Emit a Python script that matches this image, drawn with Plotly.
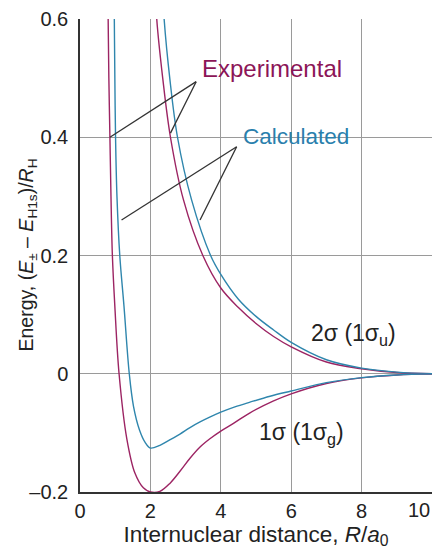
import plotly.graph_objects as go

# ---- data ----
# Experimental 1σ (1σg) - lower bonding curve
exp_1s_R = [0.78, 0.80, 0.82, 0.85, 0.88, 0.92, 0.99, 1.11, 1.33, 1.56, 1.80, 2.00, 2.27, 2.56, 2.84, 3.125, 3.41, 3.69, 4.00, 4.36, 4.83, 5.50, 6.00, 7.00, 8.00, 9.00, 10.0]
exp_1s_E = [0.70, 0.60, 0.50, 0.40, 0.30, 0.20, 0.114, 0.0, -0.110, -0.168, -0.193, -0.200, -0.199, -0.185, -0.165, -0.143, -0.124, -0.110, -0.097, -0.084, -0.066, -0.046, -0.034, -0.0165, -0.007, -0.002, 0.0]

# Calculated 1σ (1σg)
calc_1s_R = [0.96, 0.975, 0.99, 1.01, 1.05, 1.13, 1.25, 1.40, 1.52, 1.69, 1.85, 2.00, 2.27, 2.56, 2.84, 3.125, 3.41, 3.70, 4.00, 4.40, 4.83, 5.40, 6.00, 7.00, 8.00, 9.00, 10.0]
calc_1s_E = [0.70, 0.60, 0.50, 0.40, 0.30, 0.20, 0.114, 0.0, -0.055, -0.095, -0.116, -0.1257, -0.121, -0.1116, -0.102, -0.091, -0.0815, -0.073, -0.065, -0.056, -0.048, -0.038, -0.0292, -0.015, -0.0065, -0.002, 0.0]

# Experimental 2σ (1σu) - upper antibonding curve
exp_2s_R = [2.10, 2.18, 2.35, 2.57, 2.94, 3.49, 4.00, 4.50, 5.00, 5.50, 6.00, 7.00, 8.00, 9.00, 10.0]
exp_2s_E = [0.70, 0.60, 0.50, 0.40, 0.294, 0.20, 0.145, 0.112, 0.085, 0.063, 0.0455, 0.0198, 0.0085, 0.002, 0.0]

# Calculated 2σ (1σu)
calc_2s_R = [2.30, 2.39, 2.55, 2.77, 3.17, 3.71, 4.00, 4.50, 5.00, 5.50, 6.00, 7.00, 8.00, 9.00, 10.0]
calc_2s_E = [0.70, 0.60, 0.50, 0.40, 0.294, 0.20, 0.168, 0.126, 0.097, 0.074, 0.053, 0.0237, 0.0096, 0.0028, 0.0]

x_ticks = [0, 2, 4, 6, 8, 10]
x_tick_text = ["0", "2", "4", "6", "8", ""]
y_ticks = [-0.2, 0.0, 0.2, 0.4, 0.6]
y_tick_text = ["\u20130.2", "0", "0.2", "0.4", "0.6"]

MAG = "#9c2463"
BLUE = "#2f86ad"
FONT = "Liberation Sans"
TXT = "#222222"

fig = go.Figure()
for R, E, c in [(exp_2s_R, exp_2s_E, MAG), (calc_2s_R, calc_2s_E, BLUE),
                (exp_1s_R, exp_1s_E, MAG), (calc_1s_R, calc_1s_E, BLUE)]:
    fig.add_trace(go.Scatter(x=R, y=E, mode="lines",
                             line=dict(color=c, width=1.4, shape="spline", smoothing=1.0),
                             showlegend=False, hoverinfo="skip"))

# leader lines
leaders = [
    ((3.30, 0.494), (0.85, 0.400)),
    ((3.30, 0.494), (2.57, 0.407)),
    ((4.45, 0.384), (1.18, 0.260)),
    ((4.45, 0.384), (3.41, 0.260)),
]
for (x0, y0), (x1, y1) in leaders:
    fig.add_shape(type="line", xref="x", yref="y", x0=x0, y0=y0, x1=x1, y1=y1,
                  line=dict(color="#333333", width=1.3))

ann_font = dict(family=FONT, size=23, color=TXT)
fig.add_annotation(x=3.41, y=0.517, xref="x", yref="y", text="Experimental", showarrow=False,
                   xanchor="left", yanchor="middle", font=dict(family=FONT, size=24, color="#8c1557"))
fig.add_annotation(x=4.57, y=0.402, xref="x", yref="y", text="Calculated", showarrow=False,
                   xanchor="left", yanchor="middle", font=dict(family=FONT, size=22.5, color="#2a7fad"))
fig.add_annotation(x=6.50, y=0.066, xref="x", yref="y", text="2\u03c3 (1\u03c3<sub>u</sub>)", showarrow=False,
                   xanchor="left", yanchor="middle", font=ann_font)
fig.add_annotation(x=5.04, y=-0.101, xref="x", yref="y", text="1\u03c3 (1\u03c3<sub>g</sub>)", showarrow=False,
                   xanchor="left", yanchor="middle", font=ann_font)
# last x tick label, kept inside the page
fig.add_annotation(x=10, y=0, xref="x", yref="paper", text="10", showarrow=False,
                   xanchor="right", yanchor="top", yshift=-5, font=dict(family=FONT, size=20, color=TXT))
# y axis title
fig.add_annotation(x=0, y=0.5, xref="paper", yref="paper", xshift=-53, textangle=-90,
                   text="Energy, (<i>E</i><sub>\u00b1</sub> \u2013 <i>E</i><sub>H1s</sub>)/<i>R</i><sub>H</sub>",
                   showarrow=False, xanchor="center", yanchor="middle",
                   font=dict(family=FONT, size=19.5, color=TXT))

fig.update_layout(
    width=433, height=550,
    margin=dict(l=80, r=1, t=19, b=58),
    paper_bgcolor="white", plot_bgcolor="white",
    font=dict(family=FONT, size=20, color=TXT),
    xaxis=dict(range=[0, 10], tickvals=x_ticks, ticktext=x_tick_text,
               showgrid=True, gridcolor="#9a9a9a", gridwidth=1, zeroline=False,
               showline=True, linecolor="#333333", linewidth=1.5, ticks="",
               title=dict(text="Internuclear distance, <i>R</i>/<i>a</i><sub>0</sub>",
                          font=dict(family=FONT, size=22.5), standoff=3)),
    yaxis=dict(range=[-0.2, 0.6], tickvals=y_ticks, ticktext=y_tick_text,
               showgrid=True, gridcolor="#9a9a9a", gridwidth=1, zeroline=False,
               showline=True, linecolor="#333333", linewidth=1.5, ticks="",
               ticklabelstandoff=6),
)

fig.write_html("out.html")
